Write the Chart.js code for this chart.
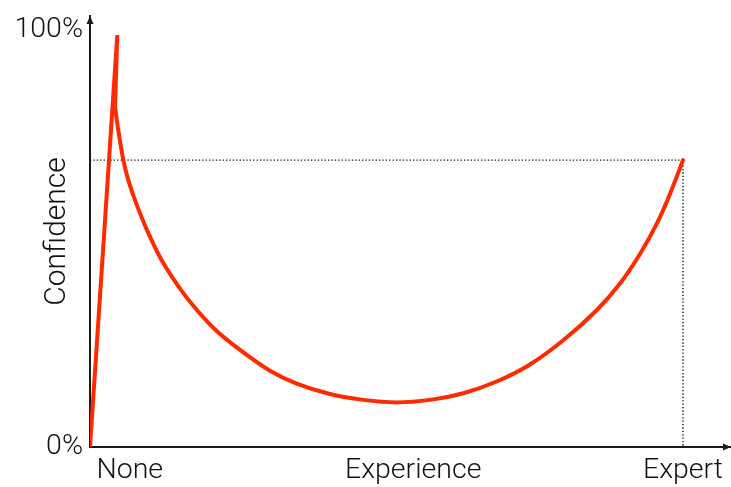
<!DOCTYPE html>
<html><head><meta charset="utf-8">
<script src="https://cdn.jsdelivr.net/npm/chart.js@4/dist/chart.umd.min.js"></script>
<style>html,body{margin:0;padding:0;background:#fff;overflow:hidden}</style>
</head><body>
<canvas id="c" width="731" height="487"></canvas>
<script>
// Rising part and peak (None -> peak of confidence -> start of the fall)
const riseX = [0, 4.6, 4.22];
const riseY = [0, 98.8, 81.5];
// Falling part (valley of despair -> expert)
const fallX = [4.22, 4.77, 5.62, 6.46, 7.59, 9.56, 12.09, 15.18, 17.99, 21.08, 25.30, 30.35, 34.86, 40.47, 46.09, 51.72, 57.34, 62.95, 68.58, 74.20, 79.81, 85.45, 89.38, 92.75, 95.57, 97.81, 100];
const fallY = [81.5, 76.0, 68.8, 64.0, 59.2, 52.2, 44.8, 38.0, 32.9, 28.2, 23.3, 18.3, 15.2, 12.7, 11.3, 10.7, 11.3, 12.9, 15.7, 19.8, 25.6, 32.8, 39.2, 46.3, 53.5, 60.7, 68.8];
// Dotted guide to the expert point
const guideX = [0, 100, 100];
const guideY = [68.8, 68.8, 0];
// Axis tick labels
const xTickValues = [6.7, 54.5, 100];
const xTickLabels = ['None', 'Experience', 'Expert'];
const yTickValues = [0, 100];
const yTickLabels = ['0%', '100%'];
const yTitle = 'Confidence';

const pts = (xs, ys) => xs.map((x, i) => ({x: x, y: ys[i]}));
const RED = '#ff2a00';
const FONT = {family: 'Roboto, "Liberation Sans", sans-serif', size: 28.5, weight: 300};

const arrows = {
  id: 'arrows',
  afterDraw(chart) {
    const {ctx, chartArea: {left, right, top, bottom}} = chart;
    ctx.save();
    ctx.fillStyle = '#1a1a1a';
    ctx.beginPath();
    ctx.moveTo(left, top);
    ctx.lineTo(left - 3.5, top + 8);
    ctx.lineTo(left + 3.5, top + 8);
    ctx.closePath();
    ctx.fill();
    ctx.beginPath();
    ctx.moveTo(right, bottom);
    ctx.lineTo(right - 8, bottom - 3.5);
    ctx.lineTo(right - 8, bottom + 3.5);
    ctx.closePath();
    ctx.fill();
    ctx.restore();
  }
};

new Chart(document.getElementById('c'), {
  type: 'line',
  data: {
    datasets: [
      {data: pts(riseX, riseY), borderColor: RED, borderWidth: 4, pointRadius: 0, tension: 0, borderCapStyle: 'round', borderJoinStyle: 'miter'},
      {data: pts(fallX, fallY), borderColor: RED, borderWidth: 4, pointRadius: 0, tension: 0.33, borderCapStyle: 'round', borderJoinStyle: 'round'},
      {data: pts(guideX, guideY), borderColor: '#111', borderWidth: 1.4, borderDash: [1.3, 2.1], pointRadius: 0, tension: 0}
    ]
  },
  options: {
    responsive: false,
    animation: false,
    devicePixelRatio: 1,
    layout: {padding: {top: 16, right: 0, left: 0, bottom: 0}},
    plugins: {legend: {display: false}, tooltip: {enabled: false}},
    scales: {
      x: {
        type: 'linear', min: 0, max: 108.1,
        grid: {display: false, drawTicks: false},
        border: {display: true, color: '#1a1a1a', width: 2},
        afterBuildTicks: s => { s.ticks = xTickValues.map(v => ({value: v})); },
        ticks: {callback: (v, i) => xTickLabels[i], font: FONT, color: '#111', padding: 7, maxRotation: 0, autoSkip: false},
        afterFit: s => { s.height = 40; s.paddingLeft = 0; s.paddingRight = 0; }
      },
      y: {
        type: 'linear', min: 0, max: 103.36,
        grid: {display: false, drawTicks: false},
        border: {display: true, color: '#1a1a1a', width: 2},
        afterBuildTicks: s => { s.ticks = yTickValues.map(v => ({value: v})); },
        ticks: {callback: (v, i) => yTickLabels[i], font: FONT, color: '#111', padding: 7, autoSkip: false},
        title: {display: true, text: yTitle, font: {family: FONT.family, size: 30, weight: 300}, color: '#111', padding: {top: 39, bottom: 0}},
        afterFit: s => { s.width = 90; s.paddingTop = 0; s.paddingBottom = 0; }
      }
    }
  },
  plugins: [arrows]
});
</script>
</body></html>
